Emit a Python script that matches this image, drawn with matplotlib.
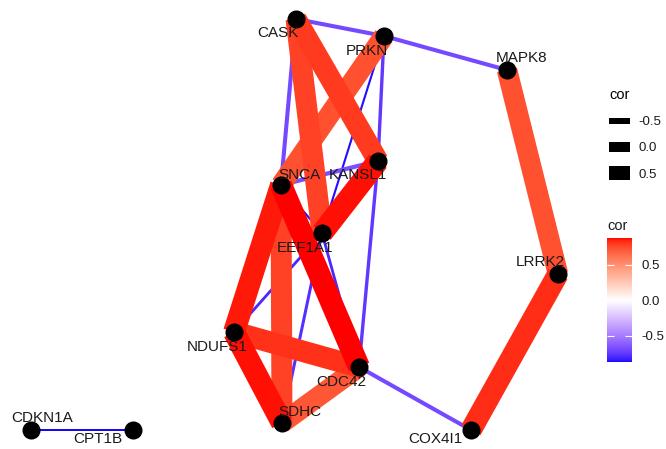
import numpy as np
import matplotlib
matplotlib.use("Agg")
import matplotlib.pyplot as plt
from matplotlib.colors import ListedColormap, Normalize
from matplotlib.lines import Line2D
import matplotlib.cm as cm

plt.rcParams['font.family'] = ['Liberation Sans', 'DejaVu Sans']

# node layout (y grows downwards)
node_names = ["CASK", "PRKN", "MAPK8", "KANSL1", "SNCA", "EEF1A1", "LRRK2",
              "NDUFS1", "CDC42", "SDHC", "COX4I1", "CDKN1A", "CPT1B"]
layout_x = [296, 384, 507, 378, 281, 322, 558, 234, 359, 282, 471, 31, 133]
layout_y = [19, 36, 70, 161, 185, 233, 274, 332, 367, 423, 430, 430, 430]

# correlation edges
edge_from = ["CASK", "PRKN", "CASK", "CASK", "CASK", "PRKN", "PRKN", "PRKN",
             "KANSL1", "KANSL1", "KANSL1", "SNCA", "SNCA", "SNCA", "SNCA",
             "EEF1A1", "EEF1A1", "EEF1A1", "NDUFS1", "NDUFS1", "SDHC",
             "MAPK8", "LRRK2", "CDC42", "CDKN1A"]
edge_to = ["PRKN", "MAPK8", "SNCA", "KANSL1", "EEF1A1", "SNCA", "KANSL1", "EEF1A1",
           "SNCA", "EEF1A1", "CDC42", "EEF1A1", "NDUFS1", "SDHC", "CDC42",
           "NDUFS1", "SDHC", "CDC42", "CDC42", "SDHC", "CDC42",
           "LRRK2", "COX4I1", "COX4I1", "CPT1B"]
edge_cor = [-0.69, -0.69, -0.69, 0.80, 0.78, 0.74, -0.75, -0.86,
            -0.67, 0.87, -0.75, -0.85, 0.86, 0.78, 0.88,
            -0.80, -0.78, -0.80, 0.82, 0.87, 0.72,
            0.74, 0.83, -0.69, -0.87]

# label offsets in pixels (dx right, dy down)
label_dx = [-18, -17, 15, -20, 18, -17, -18, -17, -18, 18, -36, 11, -35]
label_dy = [14, 15, -12, 14, -10, 15, -12, 15, 15, -11, 9, -12, 9]


# ---- colour scale like scale_edge_colour_gradient2 (Lab interpolation)
WHITE_REF = np.array([0.95047, 1.0, 1.08883])
M = np.array([[0.4124, 0.3576, 0.1805],
              [0.2126, 0.7152, 0.0722],
              [0.0193, 0.1192, 0.9505]])

def rgb2lab(rgb):
    c = np.asarray(rgb, float)
    lin = np.where(c <= 0.04045, c / 12.92, ((c + 0.055) / 1.055) ** 2.4)
    t = (M @ lin) / WHITE_REF
    d = 6 / 29
    f = np.where(t > d ** 3, np.cbrt(t), t / (3 * d * d) + 4 / 29)
    return np.array([116 * f[1] - 16, 500 * (f[0] - f[1]), 200 * (f[1] - f[2])])

def lab2rgb(lab):
    L, a, b = lab
    fy = (L + 16) / 116
    fx = fy + a / 500
    fz = fy - b / 200
    d = 6 / 29
    f = np.array([fx, fy, fz])
    t = np.where(f > d, f ** 3, 3 * d * d * (f - 4 / 29)) * WHITE_REF
    lin = np.linalg.solve(M, t)
    lin = np.clip(lin, 0, 1)
    c = np.where(lin <= 0.0031308, 12.92 * lin, 1.055 * lin ** (1 / 2.4) - 0.055)
    return np.clip(c, 0, 1)

LAB_LOW = rgb2lab([0, 0, 1])
LAB_MID = rgb2lab([1, 1, 1])
LAB_HIGH = rgb2lab([1, 0, 0])
cmin, cmax = min(edge_cor), max(edge_cor)
span = max(abs(cmin), abs(cmax))

def cor_colour(v):
    t = v / span
    if t < 0:
        lab = LAB_MID + (LAB_LOW - LAB_MID) * (-t)
    else:
        lab = LAB_MID + (LAB_HIGH - LAB_MID) * t
    return lab2rgb(lab)

def cor_width(v):
    # width in points
    return (2 + 11.5 * (v - cmin)) * 0.72


fig = plt.figure(figsize=(6.66, 4.49), dpi=100)
ax = fig.add_axes([0, 0, 1, 1])
ax.set_xlim(0, 666)
ax.set_ylim(449, 0)
ax.axis('off')

pos = {n: (x, y) for n, x, y in zip(node_names, layout_x, layout_y)}

order = np.argsort(edge_cor)
for k, i in enumerate(order):
    a, b = pos[edge_from[i]], pos[edge_to[i]]
    ax.plot([a[0], b[0]], [a[1], b[1]], color=cor_colour(edge_cor[i]),
            lw=cor_width(edge_cor[i]), solid_capstyle='butt', zorder=1 + k * 0.01)

ax.plot(layout_x, layout_y, 'o', color='black', ms=12, zorder=5)

for n, x, y, dx, dy in zip(node_names, layout_x, layout_y, label_dx, label_dy):
    ax.annotate(n, xy=(x, y), xytext=(dx, -dy), textcoords='offset pixels',
                ha='center', va='center', fontsize=11, color='#1a1a1a', zorder=6)

# ---- width legend
leg_vals = [-0.5, 0.0, 0.5]
handles = [Line2D([0], [0], color='black', lw=(4 + 8 * (v + 0.75)) * 0.72,
                  solid_capstyle='butt') for v in leg_vals]
leg = fig.legend(handles, ["-0.5", "0.0", "0.5"], title="cor", loc='upper left',
                 bbox_to_anchor=(600 / 666, 1 - 79 / 449), frameon=False,
                 handlelength=1.6, handletextpad=0.6, labelspacing=1.05,
                 fontsize=9.5, title_fontsize=10.5, borderpad=0.2)
leg._legend_box.align = "left"
for t in leg.get_texts():
    t.set_color('#1a1a1a')

# ---- colour bar
cax = fig.add_axes([607 / 666, (449 - 362) / 449, 25 / 666, 124 / 449])
vals = np.linspace(cmin, cmax, 300)
cmap = ListedColormap([cor_colour(v) for v in vals])
sm = cm.ScalarMappable(norm=Normalize(cmin, cmax), cmap=cmap)
cb = fig.colorbar(sm, cax=cax, ticks=[-0.5, 0.0, 0.5])
cb.outline.set_visible(False)
cb.ax.set_yticklabels(["-0.5", "0.0", "0.5"])
cb.ax.tick_params(direction='in', length=5, width=0.8, color='white',
                  labelcolor='#1a1a1a', labelsize=9.5, pad=7, left=True, right=True)
fig.text(607 / 666, 1 - 226 / 449, "cor", fontsize=10.5, ha='left', va='center',
         color='#1a1a1a')

fig.savefig("out.png", dpi=100)
